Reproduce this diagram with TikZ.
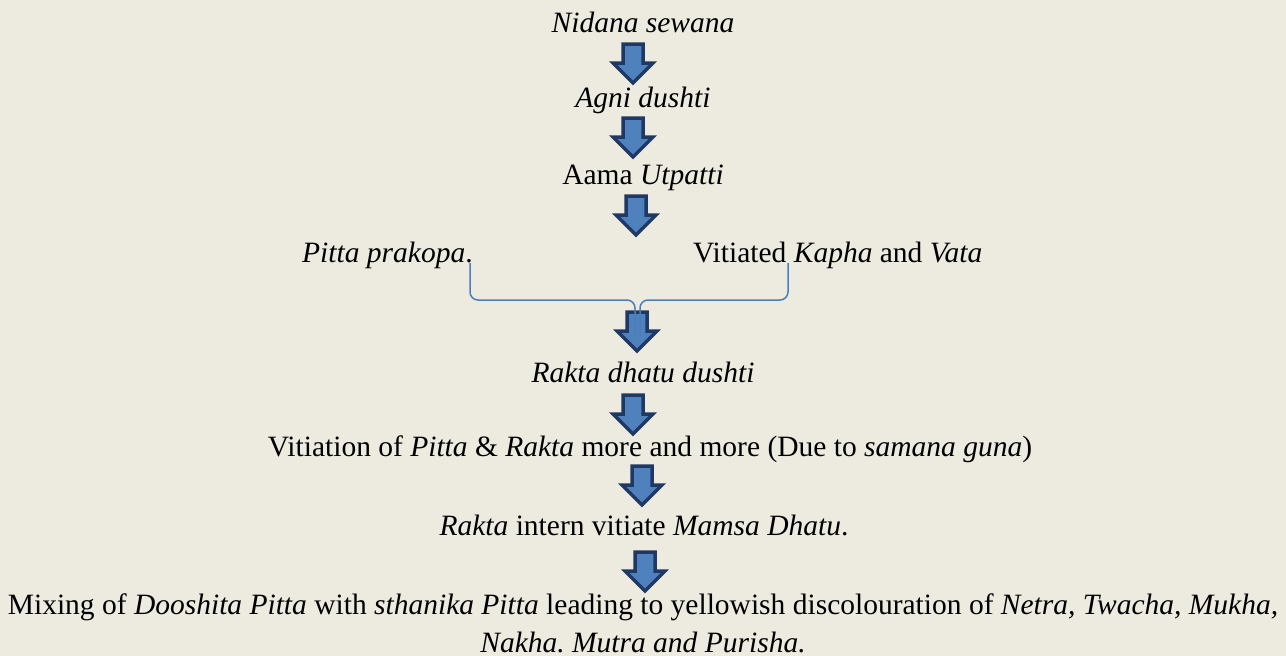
\documentclass[tikz,border=0pt]{standalone}
\usepackage{fontspec}
\setmainfont{Liberation Serif}
\frenchspacing
\definecolor{bg}{RGB}{237,235,224}
\definecolor{arrfill}{RGB}{79,129,189}
\definecolor{arrline}{RGB}{31,56,100}
\definecolor{bracecol}{RGB}{74,126,187}
\newcommand\blockarr[2]{%
  \draw[arrowbox] (#1-10,#2) -- (#1+10,#2) -- (#1+10,#2+19) -- (#1+20,#2+19) --
    (#1,#2+39) -- (#1-20,#2+19) -- (#1-10,#2+19) -- cycle;}
\begin{document}
\begin{tikzpicture}[x=1pt,y=-1pt,
  lbl/.style={font=\fontsize{29.5}{38}\selectfont, inner sep=0pt, align=center},
  arrowbox/.style={fill=arrfill, draw=arrline, line width=3.5pt, line join=miter},
  bracel/.style={draw=bracecol, line width=1.5pt, rounded corners=8pt}]
\fill[bg] (0,0) rectangle (1286,656);
\useasboundingbox (0,0) rectangle (1286,656);
\node[lbl] (n1) at (643,22) {\textit{Nidana sewana}};
\node[lbl] (n2) at (643,100) {\textit{Agni dushti}};
\node[lbl] (n3) at (643,178) {Aama \textit{Utpatti}};
\node[lbl, anchor=west] (n4a) at (302,255) {\textit{Pitta prakopa}.};
\node[lbl, anchor=west] (n4b) at (693,255) {Vitiated \textit{Kapha} and \textit{Vata}};
\node[lbl] (n5) at (643,372) {\textit{Rakta dhatu dushti}};
\node[lbl] (n6) at (650,449) {Vitiation of \textit{Pitta} \& \textit{Rakta} more and more (Due to \textit{samana guna})};
\node[lbl] (n7) at (644,525) {\textit{Rakta} intern vitiate \textit{Mamsa Dhatu}.};
\node[lbl] (n8) at (643,623) {Mixing of \textit{Dooshita Pitta} with \textit{sthanika Pitta} leading to yellowish discolouration of \textit{Netra, Twacha, Mukha,}\\ \textit{Nakha. Mutra and Purisha.}};
\blockarr{633}{44}
\blockarr{633}{118}
\blockarr{636}{196}
\blockarr{637}{312}
\blockarr{633}{395}
\blockarr{642}{466}
\blockarr{645}{552}
\coordinate (bl) at (470,263);
\coordinate (br) at (788,263);
\coordinate (bm) at (637,337);
\draw[bracel] (bl) -- (470,300) -- (635,300) -- (635,337);
\draw[bracel] (br) -- (788,300) -- (640,300) -- (640,337);
\end{tikzpicture}
\end{document}
